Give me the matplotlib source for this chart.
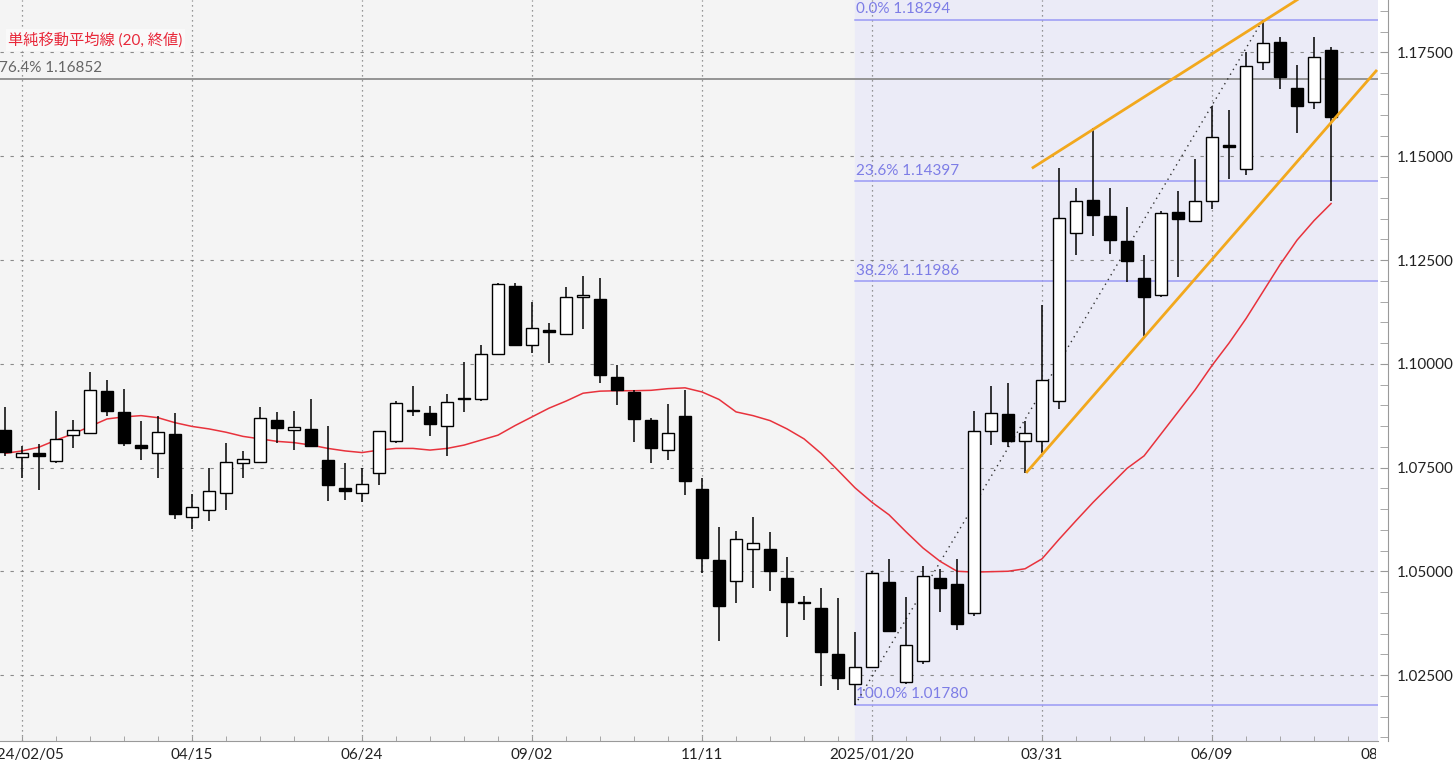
import matplotlib
matplotlib.use('Agg')
import matplotlib.pyplot as plt
from matplotlib.ticker import MultipleLocator, FixedLocator, FormatStrFormatter
from matplotlib.transforms import Bbox, TransformedBbox

plt.rcParams['font.family'] = ['Lato', 'Noto Sans CJK JP', 'DejaVu Sans']

# weekly candles, week index 0 = 2024/02/05
weeks = list(range(-1, 78))
opens = [1.0841, 1.0776, 1.0784, 1.0766, 1.0828, 1.0832, 1.0935, 1.0884, 1.0805, 1.0784,
         1.0831, 1.0630, 1.0648, 1.0689, 1.0760, 1.0764, 1.0864, 1.0840, 1.0843, 1.0769,
         1.0701, 1.0689, 1.0737, 1.0813, 1.0888, 1.0881, 1.0851, 1.0917, 1.0914, 1.1024,
         1.1188, 1.1044, 1.1081, 1.1071, 1.1160, 1.1156, 1.0967, 1.0932, 1.0864, 1.0792,
         1.0875, 1.0699, 1.0528, 1.0477, 1.0554, 1.0554, 1.0483, 1.0426, 1.0412, 1.0300,
         1.0229, 1.0270, 1.0474, 1.0233, 1.0284, 1.0483, 1.0469, 1.0400, 1.0837, 1.0879,
         1.0814, 1.0814, 1.0910, 1.1315, 1.1394, 1.1357, 1.1295, 1.1206, 1.1165, 1.1365,
         1.1345, 1.1392, 1.1528, 1.1469, 1.1726, 1.1776, 1.1664, 1.1631, 1.1756]
highs = [1.0896, 1.0802, 1.0806, 1.0887, 1.0864, 1.0979, 1.0961, 1.0940, 1.0861, 1.0875,
         1.0882, 1.0686, 1.0749, 1.0808, 1.0790, 1.0896, 1.0884, 1.0887, 1.0914, 1.0849,
         1.0760, 1.0749, 1.0839, 1.0910, 1.0946, 1.0899, 1.0926, 1.1005, 1.1044, 1.1194,
         1.1194, 1.1150, 1.1099, 1.1185, 1.1211, 1.1206, 1.0997, 1.0936, 1.0869, 1.0902,
         1.0937, 1.0725, 1.0607, 1.0597, 1.0630, 1.0595, 1.0534, 1.0441, 1.0459, 1.0436,
         1.0353, 1.0501, 1.0530, 1.0438, 1.0512, 1.0506, 1.0530, 1.0887, 1.0946, 1.0953,
         1.0861, 1.1142, 1.1471, 1.1424, 1.1569, 1.1424, 1.1378, 1.1262, 1.1369, 1.1416,
         1.1493, 1.1622, 1.1611, 1.1752, 1.18294, 1.1788, 1.1719, 1.1788, 1.1764]
lows = [1.0778, 1.0725, 1.0695, 1.0760, 1.0796, 1.0832, 1.0873, 1.0802, 1.0769, 1.0725,
        1.0625, 1.0601, 1.0622, 1.0648, 1.0725, 1.0764, 1.0808, 1.0792, 1.0802, 1.0669,
        1.0672, 1.0666, 1.0707, 1.0808, 1.0873, 1.0825, 1.0778, 1.0884, 1.0910, 1.1024,
        1.1046, 1.1026, 1.1002, 1.1071, 1.1083, 1.0953, 1.0900, 1.0811, 1.0760, 1.0769,
        1.0684, 1.0497, 1.0333, 1.0424, 1.0459, 1.0453, 1.0341, 1.0383, 1.0223, 1.0213,
        1.0178, 1.0270, 1.0353, 1.0229, 1.0276, 1.0402, 1.0359, 1.0391, 1.0804, 1.0799,
        1.0737, 1.0784, 1.0890, 1.1262, 1.1307, 1.1265, 1.1197, 1.1067, 1.1162, 1.1209,
        1.1343, 1.1374, 1.1445, 1.1454, 1.1709, 1.1661, 1.1557, 1.1614, 1.1392]
closes = [1.0787, 1.0784, 1.0777, 1.0819, 1.0840, 1.0937, 1.0887, 1.0808, 1.0796, 1.0835,
          1.0639, 1.0656, 1.0693, 1.0763, 1.0771, 1.0870, 1.0845, 1.0848, 1.0802, 1.0707,
          1.0693, 1.0711, 1.0837, 1.0906, 1.0885, 1.0855, 1.0908, 1.0914, 1.1024, 1.1191,
          1.1046, 1.1085, 1.1077, 1.1162, 1.1165, 1.0973, 1.0936, 1.0867, 1.0796, 1.0833,
          1.0717, 1.0532, 1.0416, 1.0577, 1.0568, 1.0501, 1.0426, 1.0424, 1.0306, 1.0244,
          1.0270, 1.0495, 1.0356, 1.0323, 1.0489, 1.0459, 1.0374, 1.0837, 1.0881, 1.0814,
          1.0832, 1.0961, 1.1351, 1.1392, 1.1359, 1.1298, 1.1248, 1.1162, 1.1363, 1.1348,
          1.1392, 1.1546, 1.1522, 1.1717, 1.1772, 1.1691, 1.1622, 1.1738, 1.1595]

# 20-week simple moving average
sma20 = [1.0784, 1.0790, 1.0799, 1.0816, 1.0831, 1.0849, 1.0867, 1.0872, 1.0875, 1.0870,
         1.0858, 1.0849, 1.0843, 1.0835, 1.0825, 1.0819, 1.0813, 1.0810, 1.0804, 1.0796,
         1.0790, 1.0786, 1.0792, 1.0796, 1.0796, 1.0792, 1.0796, 1.0804, 1.0816, 1.0828,
         1.0851, 1.0872, 1.0893, 1.0910, 1.0929, 1.0934, 1.0935, 1.0935, 1.0936, 1.0940,
         1.0942, 1.0932, 1.0914, 1.0884, 1.0875, 1.0863, 1.0843, 1.0819, 1.0784, 1.0743,
         1.0701, 1.0666, 1.0636, 1.0595, 1.0556, 1.0524, 1.0500, 1.0498, 1.0499, 1.0500,
         1.0506, 1.0530, 1.0577, 1.0622, 1.0666, 1.0707, 1.0748, 1.0778, 1.0831, 1.0884,
         1.0937, 1.0996, 1.1050, 1.1109, 1.1174, 1.1239, 1.1298, 1.1345, 1.1386]

xtick_pos = [0, 10, 20, 30, 40, 50, 60, 70, 80]
xtick_labels = ['2024/02/05', '04/15', '06/24', '09/02', '11/11', '2025/01/20', '03/31', '06/09', '08/18']

# fibonacci retracement drawn from the 2025 low to the high
fib_start = 49
fib_low_week, fib_high_week = 49, 73
fib_names = ['0.0%', '23.6%', '38.2%', '100.0%']
fib_levels = [1.18294, 1.14397, 1.11986, 1.01780]
old_fib_name = '76.4%'
old_fib_level = 1.16852

# channel lines (week, price)
upper_x = [59.4, 82.0]
upper_y = [1.1471, 1.2059]
lower_x = [59.06, 79.7]
lower_y = [1.0737, 1.1708]

W, H = 1456, 768
fig = plt.figure(figsize=(W / 100, H / 100), dpi=100)
fig.patch.set_facecolor('white')
ax = fig.add_axes([0, 27 / H, 1378 / W, 741 / H])
ax.set_facecolor('#f4f4f4')
ax.set_xlim(-1.294, 79.76)
ax.set_ylim(1.0091, 1.18765)

# fib zone
ax.axvspan(fib_start, 79.76, color='#ebebf7', zorder=0)
for name, lev in zip(fib_names, fib_levels):
    ax.plot([fib_start, 79.76], [lev, lev], color='#9a9af5', lw=1.1, zorder=2)
    ax.annotate(name + ' ' + '%.5f' % lev, (fib_start, lev), xytext=(1, 2.5),
                textcoords='offset points', ha='left', va='bottom',
                fontsize=11, color='#7d7de6', zorder=2)
ax.plot([fib_low_week, fib_high_week], [fib_levels[3], fib_levels[0]],
        color='#333333', lw=1.0, ls=(0, (1, 3)), zorder=3)

ax.axhline(old_fib_level, color='#8c8c8c', lw=1.3, zorder=2)
ax.annotate(old_fib_name + ' ' + '%.5f' % old_fib_level, (-1.294, old_fib_level),
            xytext=(-1, 3), textcoords='offset points', ha='left', va='bottom',
            fontsize=11, color='#666666', annotation_clip=False)

# grid
for y in [1.025, 1.05, 1.075, 1.1, 1.125, 1.15, 1.175]:
    ax.axhline(y, color='#8a8a8a', lw=0.8, ls=(0, (3, 6)), zorder=1)
for x in xtick_pos:
    ax.axvline(x, color='#777777', lw=0.9, ls=(0, (1, 3)), zorder=1)

# moving average
ax.plot(weeks, sma20, color='#e8323c', lw=1.1, zorder=3)

# candles
body_w = 0.72
for k, o, h, l, c in zip(weeks, opens, highs, lows, closes):
    ax.vlines(k, l, h, color='black', lw=1.1, zorder=4)
    bottom = min(o, c)
    height = max(abs(c - o), 0.0003)
    face = 'white' if c >= o else 'black'
    ax.bar(k, height, bottom=bottom, width=body_w, facecolor=face,
           edgecolor='black', linewidth=1.0, zorder=5)

# channel lines
ax.plot(upper_x, upper_y, color='#f2a81d', lw=2.0, zorder=6, solid_capstyle='butt')
ax.plot(lower_x, lower_y, color='#f2a81d', lw=2.0, zorder=6, solid_capstyle='butt')

# legend text
ax.text(0.006, 0.946, '単純移動平均線 (20, 終値)', transform=ax.transAxes,
        fontsize=11, color='#e8283a', ha='left', va='center', zorder=7,
        bbox=dict(facecolor='#fafafa', edgecolor='none', pad=2, alpha=0.9))

# axes styling
for side in ['left', 'top']:
    ax.spines[side].set_visible(False)
ax.spines['bottom'].set_color('#9a9a9a')
ax.spines['right'].set_color('#9a9a9a')
ax.spines['right'].set_position(('outward', 7.2))

ax.yaxis.tick_right()
ax.yaxis.set_major_locator(MultipleLocator(0.025))
ax.yaxis.set_minor_locator(MultipleLocator(0.005))
ax.yaxis.set_major_formatter(FormatStrFormatter('%.5f'))
ax.tick_params(axis='y', which='both', direction='in', length=5.8, color='#9a9a9a',
               labelsize=11, labelcolor='#222222', pad=6.5)

ax.xaxis.set_major_locator(FixedLocator(xtick_pos))
ax.xaxis.set_minor_locator(MultipleLocator(2))
ax.tick_params(axis='x', which='both', direction='in', length=3.6, color='#9a9a9a',
               labelbottom=False)

clip = TransformedBbox(Bbox([[0, 0], [1376 / W, 1]]), fig.transFigure)
for x, lab in zip(xtick_pos, xtick_labels):
    t = ax.text(x, -0.009, lab, transform=ax.get_xaxis_transform(), ha='center', va='top',
                fontsize=11, color='#222222')
    t.set_clip_path(None)
    t.set_clip_on(True)
    t.set_clip_box(clip)

fig.savefig('out.png', dpi=100)
